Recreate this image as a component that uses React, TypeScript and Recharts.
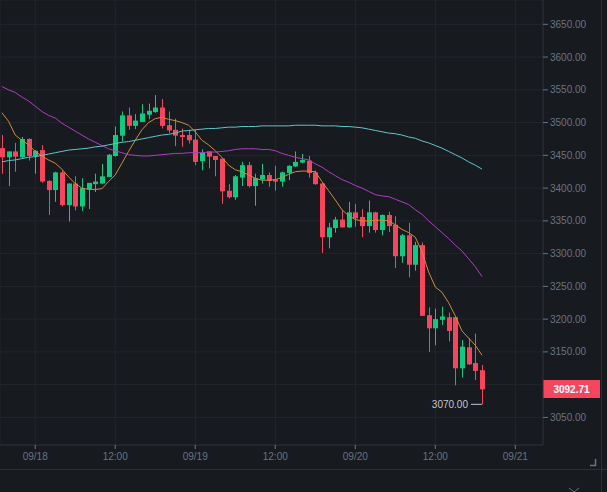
import React from "react";
import {
  ComposedChart,
  Bar,
  Line,
  XAxis,
  YAxis,
  CartesianGrid,
  ReferenceLine,
} from "recharts";

// hourly candles, hours counted from 09/18 00:00
const hours = [
  -5, -4, -3, -2, -1, 0, 1, 2, 3, 4, 5, 6, 7, 8, 9, 10, 11, 12, 13, 14, 15, 16, 17, 18, 19,
  20, 21, 22, 23, 24, 25, 26, 27, 28, 29, 30, 31, 32, 33, 34, 35, 36, 37, 38, 39, 40, 41, 42,
  43, 44, 45, 46, 47, 48, 49, 50, 51, 52, 53, 54, 55, 56, 57, 58, 59, 60, 61, 62, 63, 64, 65,
  66, 67,
];

const opens = [
  3461, 3447, 3456, 3447, 3475, 3449, 3458, 3411, 3397, 3424,
  3374, 3407, 3372, 3398, 3406, 3407, 3417, 3449, 3480, 3511,
  3495, 3501, 3512, 3516, 3523, 3496, 3489, 3481, 3481, 3474,
  3441, 3456, 3449, 3445, 3396, 3386, 3416, 3435, 3403, 3413,
  3420, 3413, 3410, 3423, 3433, 3439, 3442, 3424, 3407, 3325,
  3339, 3352, 3340, 3363, 3356, 3342, 3363, 3336, 3359, 3344,
  3296, 3328, 3283, 3313, 3206, 3186, 3199, 3203, 3203, 3125,
  3157, 3133, 3122,
];
const highs = [
  3481, 3456, 3469, 3478, 3476, 3458, 3466, 3412, 3425, 3427,
  3407, 3418, 3415, 3408, 3422, 3437, 3452, 3494, 3517, 3523,
  3513, 3528, 3529, 3542, 3536, 3517, 3506, 3491, 3489, 3489,
  3459, 3456, 3449, 3445, 3406, 3420, 3440, 3440, 3422, 3437,
  3424, 3434, 3425, 3435, 3456, 3452, 3449, 3427, 3408, 3347,
  3356, 3366, 3379, 3376, 3368, 3381, 3364, 3360, 3364, 3357,
  3330, 3347, 3318, 3317, 3218, 3216, 3219, 3210, 3203, 3168,
  3171, 3178, 3130,
];
const lows = [
  3422, 3403, 3425, 3445, 3442, 3422, 3408, 3359, 3379, 3372,
  3349, 3366, 3365, 3368, 3394, 3406, 3417, 3448, 3471, 3489,
  3490, 3501, 3505, 3515, 3491, 3484, 3464, 3463, 3468, 3435,
  3427, 3430, 3418, 3376, 3384, 3382, 3403, 3401, 3373, 3407,
  3402, 3396, 3402, 3412, 3432, 3438, 3416, 3405, 3301, 3308,
  3332, 3340, 3339, 3341, 3325, 3332, 3332, 3328, 3333, 3278,
  3286, 3264, 3274, 3205, 3150, 3160, 3191, 3166, 3099, 3111,
  3130, 3107, 3070,
];
const closes = [
  3447, 3456, 3448, 3475, 3449, 3457, 3410, 3397, 3424, 3374,
  3407, 3372, 3400, 3408, 3410, 3418, 3451, 3481, 3511, 3495,
  3503, 3514, 3518, 3523, 3495, 3488, 3480, 3478, 3473, 3440,
  3454, 3448, 3443, 3395, 3386, 3418, 3435, 3403, 3415, 3420,
  3411, 3410, 3424, 3434, 3440, 3443, 3423, 3406, 3325, 3340,
  3352, 3340, 3363, 3354, 3342, 3363, 3336, 3359, 3342, 3296,
  3328, 3283, 3313, 3205, 3186, 3200, 3204, 3182, 3125, 3158,
  3131, 3121, 3092.71,
];

// moving averages
const ma7 = [
  3515, 3502, 3481, 3473, 3466, 3456, 3449, 3443, 3438, 3429,
  3417, 3407, 3400, 3398, 3398, 3399, 3410, 3420, 3438, 3456,
  3473, 3489, 3500, 3506, 3508, 3505, 3503, 3500, 3496, 3486,
  3473, 3466, 3457, 3447, 3435, 3428, 3425, 3420, 3415, 3412,
  3412, 3413, 3416, 3421, 3425, 3426, 3426, 3425, 3410, 3396,
  3382, 3367, 3358, 3352, 3350, 3350, 3351, 3351, 3350, 3344,
  3337, 3332, 3325, 3303, 3272, 3249, 3241, 3225, 3205, 3182,
  3171, 3160, 3145,
];
const ma25 = [
  3555, 3550, 3546, 3539, 3533, 3525, 3517, 3511, 3507, 3499,
  3493, 3487, 3481, 3475, 3470, 3465, 3460, 3457, 3454, 3451,
  3450, 3449, 3449, 3450, 3451, 3452, 3453, 3453, 3454, 3454,
  3454, 3455, 3455, 3456, 3457, 3459, 3460, 3460, 3460, 3459,
  3459, 3457, 3453, 3450, 3447, 3445, 3443, 3437, 3432, 3425,
  3419, 3413, 3409, 3404, 3400, 3395, 3390, 3388, 3387, 3383,
  3379, 3375, 3367, 3360, 3350, 3341, 3332, 3323, 3313, 3304,
  3292, 3280, 3265,
];
const ma99 = [
  3440, 3442, 3443, 3445, 3447, 3448, 3450, 3452, 3454, 3456,
  3458, 3459, 3460, 3461, 3463, 3464, 3466, 3468, 3470, 3471,
  3473, 3475, 3477, 3479, 3481, 3482, 3484, 3487, 3488, 3489,
  3490, 3491, 3491, 3492, 3493, 3493, 3494, 3494, 3494, 3495,
  3495, 3495, 3495, 3495, 3496, 3496, 3496, 3496, 3495, 3495,
  3495, 3494, 3494, 3493, 3492, 3490, 3488, 3486, 3484, 3483,
  3481, 3478, 3476, 3472, 3469, 3465, 3461, 3456, 3451, 3446,
  3440, 3435, 3429,
];

const xTicks = [0, 12, 24, 36, 48, 60, 72];
const xTickLabels = ["09/18", "12:00", "09/19", "12:00", "09/20", "12:00", "09/21"];
const yTicks = [3050, 3100, 3150, 3200, 3250, 3300, 3350, 3400, 3450, 3500, 3550, 3600, 3650];
const lastPrice = 3092.71;

const GREEN = "#0ecb81";
const RED = "#f6465d";
const BG = "#171a1f";
const GRID = "#22262c";
const BORDER = "#2b2f36";
const AXIS_TEXT = "#6b7380";
const FONT = "'Liberation Sans', Arial, sans-serif";

const data = hours.map((t, i) => ({
  t,
  open: opens[i],
  high: highs[i],
  low: lows[i],
  close: closes[i],
  range: [lows[i], highs[i]],
  ma7: ma7[i],
  ma25: ma25[i],
  ma99: ma99[i],
}));

const minLow = Math.min(...lows);

function Candle(props: any) {
  const { x, y, width, height, payload } = props;
  const { open, close, high, low } = payload;
  const color = close >= open ? GREEN : RED;
  const cx = Math.round(x + width / 2);
  const ratio = high === low ? 0 : height / (high - low);
  const top = y + (high - Math.max(open, close)) * ratio;
  const bottom = y + (high - Math.min(open, close)) * ratio;
  const lowY = y + height;
  return (
    <g>
      <line x1={cx + 0.5} x2={cx + 0.5} y1={y} y2={lowY} stroke={color} strokeWidth={1} />
      <rect x={cx - 2} y={top} width={5} height={Math.max(1, bottom - top)} fill={color} />
      {low === minLow && (
        <g>
          <line x1={cx - 11} x2={cx} y1={lowY} y2={lowY} stroke="#c4c8ce" strokeWidth={1} />
          <text
            x={cx - 14}
            y={lowY}
            dy={3.5}
            textAnchor="end"
            fontSize={10}
            fontFamily={FONT}
            fill="#c4c8ce"
          >
            {low.toFixed(2)}
          </text>
        </g>
      )}
    </g>
  );
}

function YTick(props: any) {
  const { x, y, payload } = props;
  // the last-price tag covers this label
  if (Math.abs(payload.value - lastPrice) < 14) return null;
  return (
    <g>
      <line x1={x - 7} x2={x - 2} y1={y} y2={y} stroke={AXIS_TEXT} strokeWidth={1} />
      <text x={x} y={y} dy={3.5} fontSize={10} fontFamily={FONT} fill={AXIS_TEXT}>
        {payload.value.toFixed(2)}
      </text>
    </g>
  );
}

function PriceTag(props: any) {
  const { viewBox } = props;
  const x = viewBox.x + viewBox.width;
  const y = Math.round(viewBox.y);
  return (
    <g>
      <rect x={x} y={y - 9} width={57} height={18} fill={RED} />
      <text
        x={x + 28.5}
        y={y}
        dy={3.5}
        textAnchor="middle"
        fontSize={10}
        fontWeight={700}
        fontFamily={FONT}
        fill="#ffffff"
      >
        {lastPrice.toFixed(2)}
      </text>
    </g>
  );
}

export default function App() {
  return (
    <div
      style={{
        position: "absolute",
        left: 0,
        top: 0,
        width: 607,
        height: 492,
        background: BG,
        overflow: "hidden",
      }}
    >
      <ComposedChart width={607} height={492} data={data} margin={{ top: 0, right: 0, bottom: 0, left: 0 }}>
        <CartesianGrid stroke={GRID} strokeWidth={1} />
        <XAxis
          dataKey="t"
          type="number"
          domain={[-5.28, 76.15]}
          allowDataOverflow
          ticks={xTicks}
          tickFormatter={(v) => xTickLabels[xTicks.indexOf(v)]}
          height={47}
          axisLine={{ stroke: BORDER }}
          tickLine={{ stroke: AXIS_TEXT }}
          tickSize={4}
          tickMargin={4}
          tick={{ fill: AXIS_TEXT, fontSize: 10, fontFamily: FONT }}
        />
        <YAxis
          orientation="right"
          type="number"
          domain={[3007.9, 3687.1]}
          allowDataOverflow
          ticks={yTicks}
          width={64}
          axisLine={{ stroke: BORDER }}
          tickLine={false}
          tickSize={5}
          tickMargin={2}
          tick={<YTick />}
        />
        <Bar dataKey="range" barSize={5} shape={(p: any) => <Candle {...p} />} isAnimationActive={false} />
        <Line dataKey="ma7" type="linear" stroke="#d18c3a" strokeWidth={1} dot={false} activeDot={false} isAnimationActive={false} />
        <Line dataKey="ma25" type="linear" stroke="#b03cc6" strokeWidth={1} dot={false} activeDot={false} isAnimationActive={false} />
        <Line dataKey="ma99" type="linear" stroke="#5ec6c9" strokeWidth={1} dot={false} activeDot={false} isAnimationActive={false} />
        <ReferenceLine y={lastPrice} stroke="none" label={<PriceTag />} />
      </ComposedChart>
      <svg
        width={607}
        height={492}
        style={{ position: "absolute", left: 0, top: 0, pointerEvents: "none" }}
      >
        <line x1={0} x2={607} y1={469.5} y2={469.5} stroke={BORDER} strokeWidth={1} />
        <line x1={601.5} x2={601.5} y1={0} y2={492} stroke={BORDER} strokeWidth={1} />
        <path d="M590 465.5 H595.5 V459" fill="none" stroke={AXIS_TEXT} strokeWidth={1.5} />
        <path d="M569 488 L574 492 M579 488 L574 492" fill="none" stroke={AXIS_TEXT} strokeWidth={1} />
      </svg>
    </div>
  );
}
